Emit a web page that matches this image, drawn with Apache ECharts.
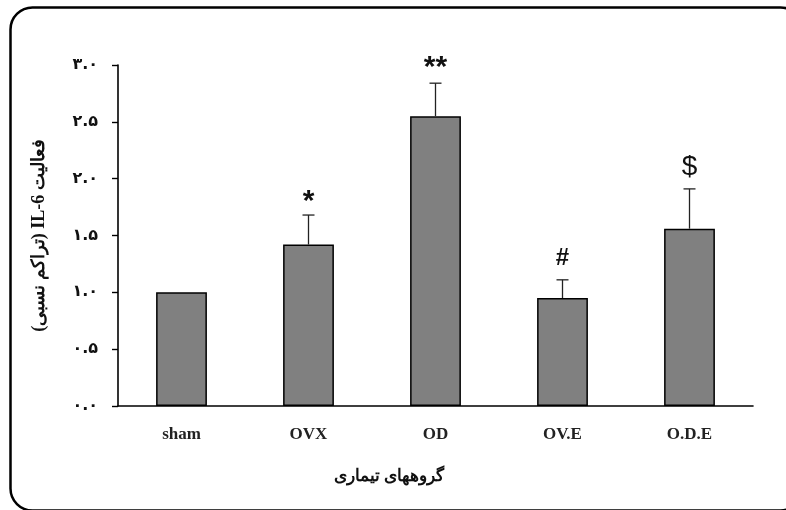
<!DOCTYPE html>
<html>
<head>
<meta charset="utf-8">
<script src="https://cdn.jsdelivr.net/npm/echarts@6/dist/echarts.min.js"></script>
<style>
html,body{margin:0;padding:0;background:#fff;}
#c{width:786px;height:510px;}
</style>
</head>
<body>
<div id="c"></div>
<script>
var categories = ['sham', 'OVX', 'OD', 'OV.E', 'O.D.E'];
var values = [1.0, 1.42, 2.55, 0.95, 1.56];
var errors = [0, 0.26, 0.29, 0.16, 0.35];
var markers = ['', '*', '**', '#', '$'];
var yTickLabels = ['۰.۰', '۰.۵', '۱.۰', '۱.۵', '۲.۰', '۲.۵', '۳.۰'];
var yAxisTitle = 'فعالیت IL-6 (تراکم نسبی)';
var xAxisTitle = 'گروههای تیماری';

var chart = echarts.init(document.getElementById('c'), null, {renderer: 'canvas'});

var errData = categories.map(function (c, i) { return [i, values[i], errors[i]]; });

var markerStyle = {
  '*': {font: 'bold 30px "Liberation Sans", Arial, sans-serif', dy: 2},
  '**': {font: 'bold 30px "Liberation Sans", Arial, sans-serif', dy: 0},
  '#': {font: 'bold 24px "Liberation Sans", Arial, sans-serif', dy: -9},
  '$': {font: 'normal 28px "Liberation Sans", Arial, sans-serif', dy: -8}
};

chart.setOption({
  backgroundColor: '#ffffff',
  animation: false,
  grid: {left: 118, right: 33, top: 65, bottom: 104, containLabel: false},
  xAxis: {
    type: 'category',
    data: categories,
    axisLine: {lineStyle: {color: '#000', width: 1.6}},
    axisTick: {show: false},
    axisLabel: {
      margin: 20,
      color: '#222',
      fontFamily: '"Liberation Serif", "Times New Roman", serif',
      fontWeight: 'bold',
      fontSize: 17
    }
  },
  yAxis: {
    type: 'value',
    min: 0, max: 3, interval: 0.5,
    splitLine: {show: false},
    axisLine: {show: true, lineStyle: {color: '#000', width: 1.6}},
    axisTick: {show: true, length: 6, lineStyle: {color: '#000', width: 1.4}},
    axisLabel: {
      margin: 20,
      color: '#111',
      fontFamily: '"DejaVu Sans", "Liberation Serif", serif',
      fontWeight: 'bold',
      fontSize: 16,
      formatter: function (v) { return yTickLabels[Math.round(v / 0.5)]; }
    },
    name: '\u202B' + yAxisTitle + '\u202C',
    nameLocation: 'middle',
    nameRotate: 90,
    nameGap: 70,
    nameTextStyle: {
      color: '#111',
      fontFamily: '"Liberation Serif", "DejaVu Serif", serif',
      fontWeight: 'bold',
      fontSize: 18
    }
  },
  series: [
    {
      type: 'bar',
      data: values,
      barWidth: '40%',
      itemStyle: {color: '#808080', borderColor: '#000', borderWidth: 1.5}
    },
    {
      type: 'custom',
      data: errData,
      z: 5,
      renderItem: function (params, api) {
        var i = api.value(0), v = api.value(1), e = api.value(2);
        var m = markers[i];
        var base = api.coord([i, v]);
        var top = api.coord([i, v + e]);
        var children = [];
        if (e > 0) {
          children.push({type: 'line', shape: {x1: top[0], y1: base[1], x2: top[0], y2: top[1]},
            style: {stroke: '#222', lineWidth: 1.3}});
          children.push({type: 'line', shape: {x1: top[0] - 6, y1: top[1], x2: top[0] + 6, y2: top[1]},
            style: {stroke: '#222', lineWidth: 1.3}});
        }
        if (m) {
          var ms = markerStyle[m];
          children.push({type: 'text', x: top[0], y: top[1] + ms.dy,
            style: {text: m, textAlign: 'center', textVerticalAlign: 'bottom',
              fill: '#111', font: ms.font}});
        }
        return {type: 'group', children: children};
      }
    }
  ],
  graphic: [
    {
      type: 'rect', left: 8, top: 5, z: 100, silent: true,
      shape: {x: 0, y: 0, width: 792, height: 503, r: 22},
      style: {fill: null, stroke: '#000', lineWidth: 2.5}
    },
    {
      type: 'text', x: 389, y: 477, z: 100,
      style: {text: xAxisTitle, textAlign: 'center', textVerticalAlign: 'middle', fill: '#111',
        font: 'bold 17px "Liberation Serif", "DejaVu Serif", serif'}
    }
  ]
});
</script>
</body>
</html>
